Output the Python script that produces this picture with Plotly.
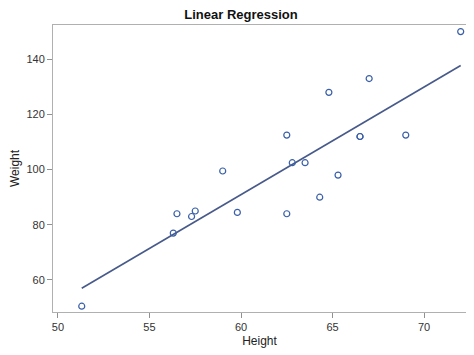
import numpy as np
import plotly.graph_objects as go

height = [69.0, 56.5, 65.3, 62.8, 63.5, 57.3, 59.8, 62.5, 62.5, 59.0,
          51.3, 64.3, 56.3, 66.5, 72.0, 64.8, 67.0, 57.5, 66.5]
weight = [112.5, 84.0, 98.0, 102.5, 102.5, 83.0, 84.5, 112.5, 84.0, 99.5,
          50.5, 90.0, 77.0, 112.0, 150.0, 128.0, 133.0, 85.0, 112.0]

slope, intercept = np.polyfit(height, weight, 1)
fx = np.array([min(height), max(height)])
fy = intercept + slope * fx

fig = go.Figure()
fig.add_trace(go.Scatter(x=fx, y=fy, mode="lines",
                         line=dict(color="#475A8A", width=1.6), showlegend=False))
fig.add_trace(go.Scatter(x=height, y=weight, mode="markers",
                         marker=dict(symbol="circle-open", size=6, color="#3A5FA8",
                                     line=dict(width=1.2)), showlegend=False))

axis_common = dict(showgrid=False, zeroline=False, showline=True, linecolor="#B0B0B0",
                   linewidth=1, mirror=True, ticks="outside", ticklen=5,
                   tickcolor="#909090", tickfont=dict(size=11, color="#333333"),
                   automargin=False)
fig.update_layout(
    width=466, height=347,
    margin=dict(l=45, r=8, t=17, b=43),
    paper_bgcolor="white", plot_bgcolor="white",
    font=dict(family="Liberation Sans, Arial, sans-serif", color="#222222"),
    title=dict(text="<b>Linear Regression</b>", x=0.5, xanchor="center",
               y=0.995, yanchor="top", font=dict(size=13, color="#111111")),
    xaxis=dict(range=[49.73, 72.29], tickvals=[50, 55, 60, 65, 70],
               title=dict(text="Height", font=dict(size=12), standoff=4), **axis_common),
    yaxis=dict(range=[48.4, 152.4], tickvals=[60, 80, 100, 120, 140],
               title=dict(text="Weight", font=dict(size=12), standoff=8), **axis_common),
)
fig.write_html("out.html")
